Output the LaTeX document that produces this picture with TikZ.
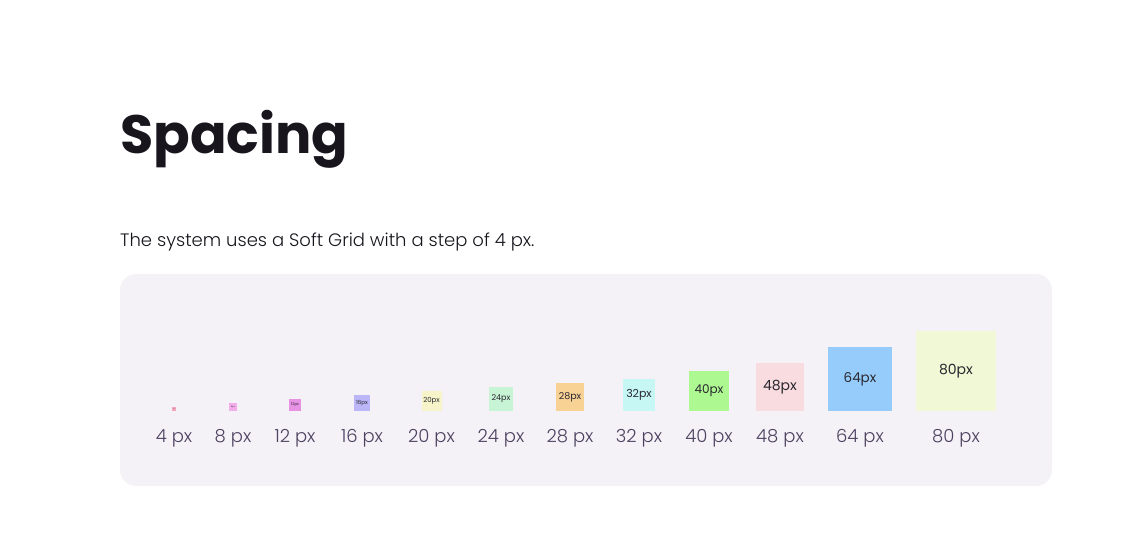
\documentclass[tikz,border=0pt]{standalone}
\usepackage{fontspec}
\setmainfont{Poppins}
\newfontfamily\poppinslight{Poppins Light}
\usetikzlibrary{positioning}
\definecolor{ink}{HTML}{18151D}
\definecolor{panel}{HTML}{F4F2F7}
\definecolor{muted}{HTML}{4B4160}
\definecolor{boxink}{HTML}{2A2830}
\definecolor{sw4}{HTML}{F4A6BE}
\definecolor{sw8}{HTML}{F3AEEA}
\definecolor{sw12}{HTML}{E892E6}
\definecolor{sw16}{HTML}{BAB6F8}
\definecolor{sw20}{HTML}{F8F4CA}
\definecolor{sw24}{HTML}{C8F4D6}
\definecolor{sw28}{HTML}{F8D194}
\definecolor{sw32}{HTML}{C6F7F4}
\definecolor{sw40}{HTML}{ADF891}
\definecolor{sw48}{HTML}{F8DCE0}
\definecolor{sw64}{HTML}{95CCFB}
\definecolor{sw80}{HTML}{F1F8D5}
\tikzset{heading/.style = {anchor=base west, inner sep=0pt, text=ink, font=\fontsize{54}{58}\selectfont\bfseries}}
\tikzset{intro/.style = {anchor=base west, inner sep=0pt, text=ink, font=\fontsize{18}{22}\selectfont\poppinslight}}
\tikzset{swatch/.style = {minimum size=#1pt, inner sep=0pt, anchor=south, text=boxink}}
\tikzset{sizelabel/.style = {anchor=base, inner sep=0pt, text=muted, font=\fontsize{18}{22}\selectfont\poppinslight}}

\begin{document}
\begin{tikzpicture}[x=1pt, y=-1pt]
  \useasboundingbox (0,0) rectangle (1134,554);
  \node [heading] (title) at (120,153) {Spacing};
  \node [intro] (intro) at (120,246) {The system uses a Soft Grid with a step of 4 px.};

  \fill [panel, rounded corners=16pt] (120,274) rectangle (1052,486);

  % swatches, bottom aligned
  \foreach \s/\cx/\f in {4/174/1, 8/233/2, 12/295/3.8, 16/362/5.6, 20/431.5/7,
      24/501/8, 28/570/9.5, 32/639/11, 40/709/12, 48/780/14, 64/860/13.5, 80/956/14} {
    \node [swatch=\s, fill=sw\s, font=\fontsize{\f}{\f}\selectfont] (sq\s) at (\cx,411) {\s px};
    \node [sizelabel] (lb\s) at (\cx,442) {\s\ px};
  }
\end{tikzpicture}
\end{document}
